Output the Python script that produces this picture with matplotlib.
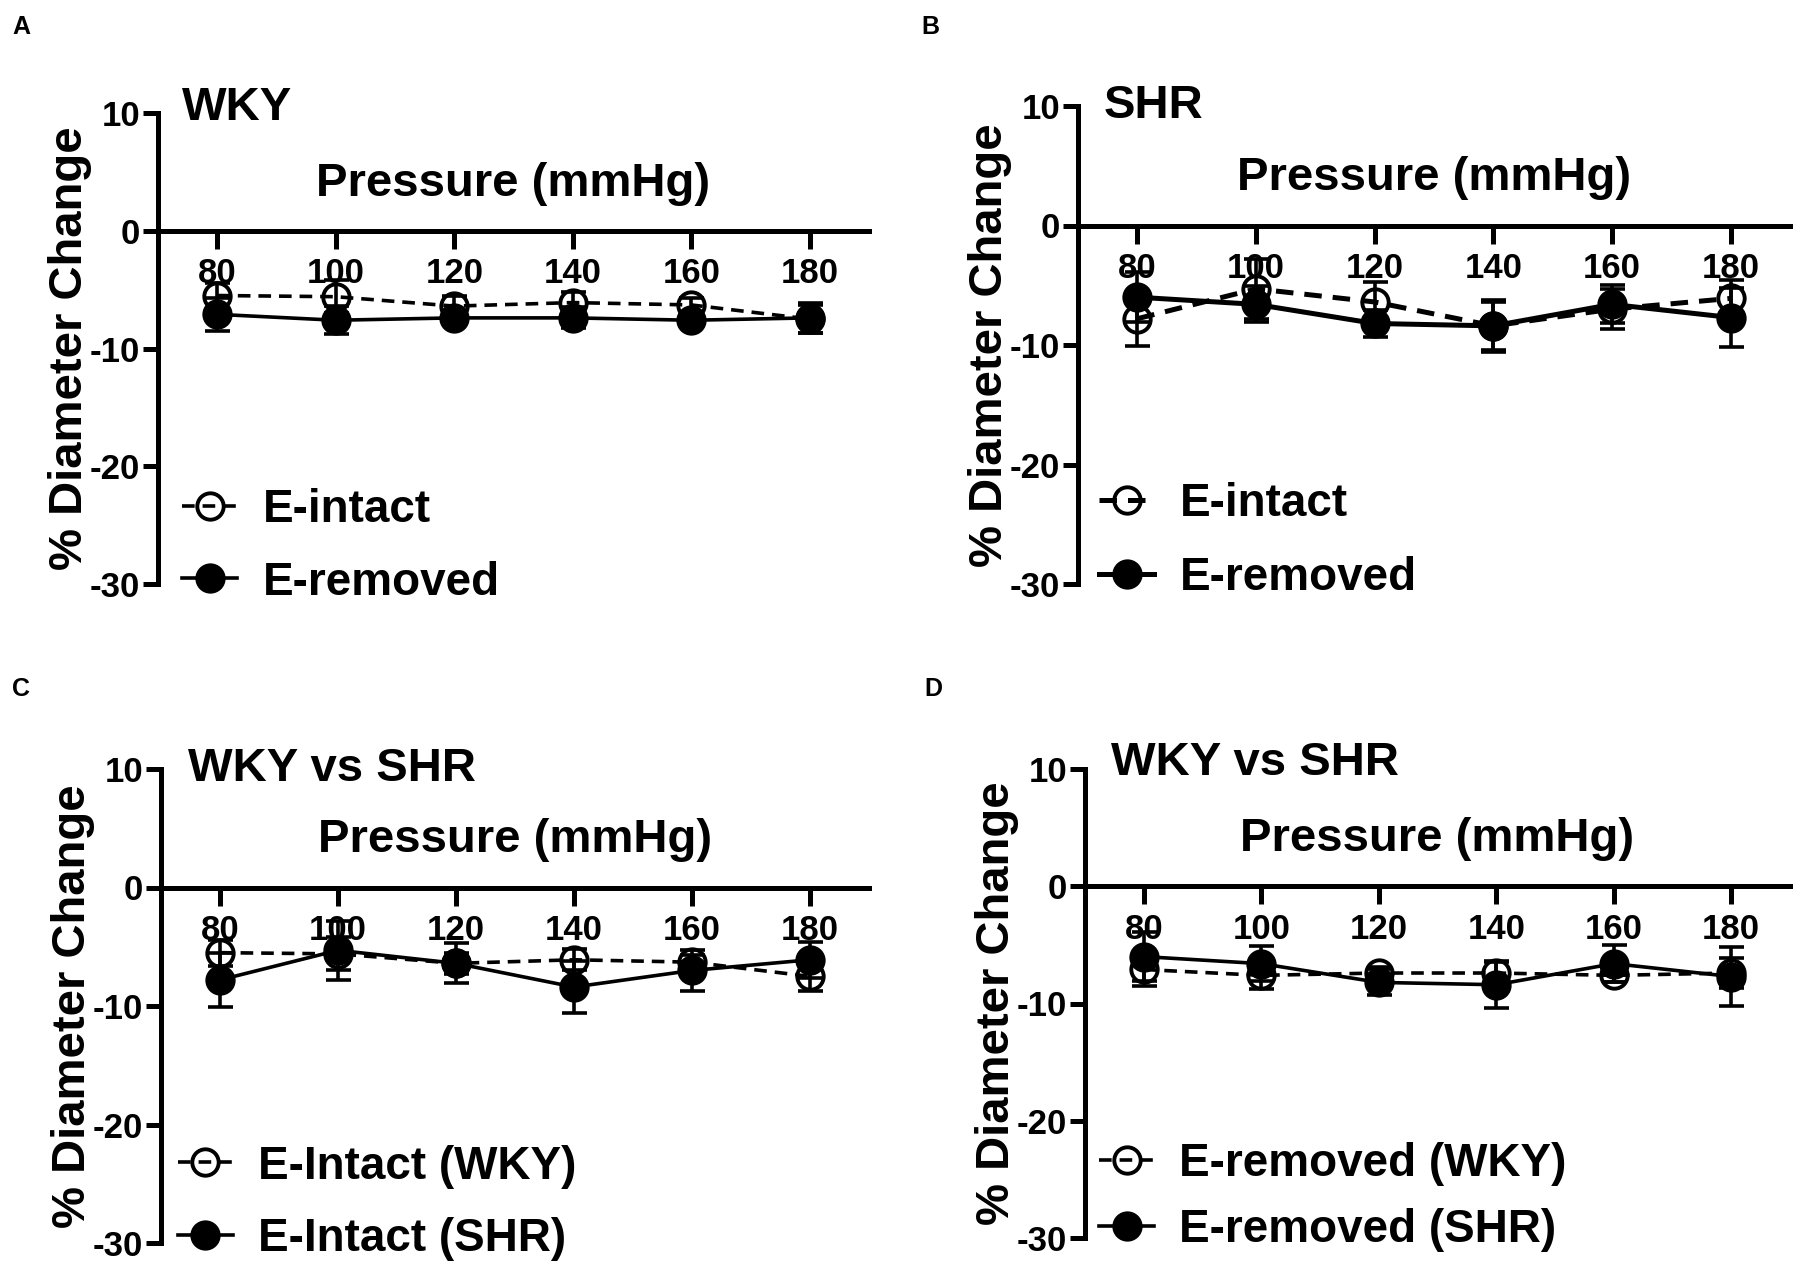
import matplotlib
matplotlib.use("Agg")
import matplotlib.pyplot as plt

plt.rcParams['font.family'] = 'Liberation Sans'
plt.rcParams['font.weight'] = 'bold'
plt.rcParams['axes.labelweight'] = 'bold'
plt.rcParams['axes.unicode_minus'] = False

# pressure steps (mmHg)
pressure = [80, 100, 120, 140, 160, 180]
pressure_labels = ['80', '100', '120', '140', '160', '180']
y_ticks = [10, 0, -10, -20, -30]

# % diameter change, mean and error
wky_intact = [-5.5, -5.6, -6.4, -6.1, -6.3, -7.5]
wky_intact_err = [1.1, 1.4, 0.9, 0.9, 0.6, 1.2]
wky_removed = [-7.1, -7.6, -7.4, -7.4, -7.6, -7.4]
wky_removed_err = [1.4, 1.2, 0.5, 0.9, 0.6, 1.3]
shr_intact = [-7.8, -5.3, -6.4, -8.4, -7.0, -6.1]
shr_intact_err = [2.3, 2.5, 1.7, 2.2, 1.7, 1.5]
shr_removed = [-6.0, -6.6, -8.2, -8.4, -6.6, -7.7]
shr_removed_err = [2.1, 1.5, 1.1, 2.0, 1.6, 2.5]

W, H = 1805, 1269
fig = plt.figure(figsize=(W / 100, H / 100), dpi=100)


def px_rect(left, right, top, bottom):
    return [left / W, 1 - bottom / H, (right - left) / W, (bottom - top) / H]


def draw_series(ax, y, err, filled, lw, label):
    ax.errorbar(pressure, y, yerr=err, fmt='none', ecolor='black',
                elinewidth=2.6, capsize=9, capthick=2.6, zorder=3)
    line, = ax.plot(pressure, y, color='black', lw=lw,
                    ls='-' if filled else (0, (3.5, 2.2)),
                    marker='o', ms=19, mew=2.8, mec='black',
                    mfc='black' if filled else 'none', zorder=4,
                    label=label)
    return line


panels = [
    dict(letter='A', lpos=(12, 27), rect=px_rect(158, 869, 113, 584), title='WKY',
         tpos=(0.033, 0.963), lw=2.6,
         open_s=(wky_intact, wky_intact_err, 'E-intact'),
         fill_s=(wky_removed, wky_removed_err, 'E-removed'),
         leg=(0.034, 0.08), spacing=0.62),
    dict(letter='B', lpos=(921, 27), rect=px_rect(1078, 1790, 106, 584), title='SHR',
         tpos=(0.036, 0.953), lw=3.6,
         open_s=(shr_intact, shr_intact_err, 'E-intact'),
         fill_s=(shr_removed, shr_removed_err, 'E-removed'),
         leg=(0.03, 0.09), spacing=0.64),
    dict(letter='C', lpos=(12, 689), rect=px_rect(161, 869, 769, 1243), title='WKY vs SHR',
         tpos=(0.038, 0.953), lw=2.6,
         open_s=(wky_intact, wky_intact_err, 'E-Intact (WKY)'),
         fill_s=(shr_intact, shr_intact_err, 'E-Intact (SHR)'),
         leg=(0.024, 0.085), spacing=0.62),
    dict(letter='D', lpos=(924, 689), rect=px_rect(1085, 1790, 769, 1238), title='WKY vs SHR',
         tpos=(0.037, 0.965), lw=2.6,
         open_s=(wky_removed, wky_removed_err, 'E-removed (WKY)'),
         fill_s=(shr_removed, shr_removed_err, 'E-removed (SHR)'),
         leg=(0.02, 0.088), spacing=0.48),
]

for p in panels:
    ax = fig.add_axes(p['rect'])
    h_open = draw_series(ax, p['open_s'][0], p['open_s'][1], False, p['lw'], p['open_s'][2])
    h_fill = draw_series(ax, p['fill_s'][0], p['fill_s'][1], True, p['lw'], p['fill_s'][2])

    ax.set_xlim(70, 190)
    ax.set_ylim(-30, 10)
    ax.spines['top'].set_visible(False)
    ax.spines['right'].set_visible(False)
    ax.spines['bottom'].set_position(('data', 0))
    for s in ('left', 'bottom'):
        ax.spines[s].set_linewidth(3.6)
    ax.set_xticks(pressure)
    ax.set_xticklabels(pressure_labels)
    ax.set_yticks(y_ticks)
    ax.tick_params(axis='x', direction='out', length=13, width=3.6, pad=6, labelsize=25)
    ax.tick_params(axis='y', direction='out', length=11, width=3.6, pad=2, labelsize=25)

    ax.set_ylabel('% Diameter Change', fontsize=34, fontweight='bold')
    ax.yaxis.set_label_coords(-0.093, 0.5)
    ax.text(130, 4, 'Pressure (mmHg)', ha='center', va='center', fontsize=34)
    ax.text(p['tpos'][0], p['tpos'][1], p['title'], transform=ax.transAxes,
            ha='left', va='bottom', fontsize=34)

    ax.legend(handles=[h_open, h_fill], loc='center left', bbox_to_anchor=p['leg'],
              frameon=False, fontsize=33, handlelength=1.2, handletextpad=0.55,
              labelspacing=p['spacing'], borderpad=0, borderaxespad=0, numpoints=1)

    fig.text(p['lpos'][0] / W, 1 - p['lpos'][1] / H, p['letter'],
             ha='left', va='center', fontsize=18)

fig.savefig('out.png', dpi=100)
